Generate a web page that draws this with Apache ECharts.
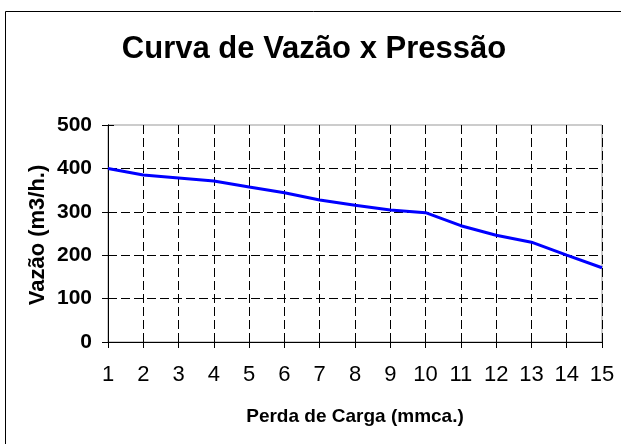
<!DOCTYPE html>
<html>
<head>
<meta charset="utf-8">
<script src="https://cdn.jsdelivr.net/npm/echarts@6/dist/echarts.min.js"></script>
<style>
  html, body { margin: 0; padding: 0; background: #fff; }
  #chart { width: 621px; height: 444px; }
</style>
</head>
<body>
<div id="chart"></div>
<script>
// perda de carga (mmca.) vs vazão (m3/h.)
const categories = ['1', '2', '3', '4', '5', '6', '7', '8', '9', '10', '11', '12', '13', '14', '15']
const vazao = [400, 385, 378, 371, 357, 344, 327, 315, 304, 298, 268, 246, 230, 200, 171]
const yTicks = [0, 100, 200, 300, 400, 500]

const titleText = 'Curva de Vazão x Pressão'
const xName = 'Perda de Carga (mmca.)'
const yName = 'Vazão (m3/h.)'

const font = 'Liberation Sans, Arial, sans-serif'
const dash = [9, 4]

const chart = echarts.init(document.getElementById('chart'))

const baseX = {
  type: 'category',
  data: categories,
  boundaryGap: false,
  axisLine: { lineStyle: { color: '#000', width: 1 } },
  axisLabel: { show: false },
  axisTick: { show: false },
  splitLine: { show: false }
}
const baseY = {
  type: 'value',
  min: yTicks[0],
  max: yTicks[yTicks.length - 1],
  interval: 100,
  axisLine: { show: true, lineStyle: { color: '#000', width: 1 } },
  axisLabel: { show: false },
  axisTick: { show: false },
  splitLine: { show: false }
}

chart.setOption({
  backgroundColor: '#fff',
  animation: false,
  grid: {
    left: 108, right: 19, top: 125, bottom: 102,
    show: true, borderColor: '#999', borderWidth: 1, backgroundColor: '#fff'
  },
  graphic: [
    {
      type: 'rect',
      shape: { x: 5.5, y: 11.5, width: 700, height: 600 },
      style: { fill: 'none', stroke: '#000', lineWidth: 1 },
      silent: true
    },
    {
      type: 'text', x: 314, y: 49.5,
      style: { text: titleText, x: 0, y: 0, align: 'center', verticalAlign: 'middle',
        font: 'bold 31px ' + font, fill: '#000' }
    },
    {
      type: 'text', x: 355, y: 417,
      style: { text: xName, x: 0, y: 0, align: 'center', verticalAlign: 'middle',
        font: 'bold 19px ' + font, fill: '#000' }
    },
    {
      type: 'text', x: 38, y: 235, rotation: Math.PI / 2,
      style: { text: yName, x: 0, y: 0, align: 'center', verticalAlign: 'middle',
        font: 'bold 22px ' + font, fill: '#000' }
    }
  ],
  xAxis: [
    Object.assign({}, baseX, {
      axisTick: { show: true, inside: false, length: 6, lineStyle: { color: '#000' } },
      axisLabel: { show: true, margin: 22, color: '#000', fontSize: 22, fontFamily: font },
      splitLine: { show: true, lineStyle: { color: '#000', type: dash, width: 1 } }
    }),
    Object.assign({}, baseX, {
      position: 'bottom',
      axisTick: { show: true, inside: true, length: 5, lineStyle: { color: '#000' } }
    })
  ],
  yAxis: [
    Object.assign({}, baseY, {
      axisTick: { show: true, inside: false, length: 6, lineStyle: { color: '#000' } },
      axisLabel: { show: true, margin: 16, color: '#000', fontSize: 21, fontWeight: 'bold', fontFamily: font },
      splitLine: { show: true, showMaxLine: false, lineStyle: { color: '#000', type: dash, width: 1 } }
    }),
    Object.assign({}, baseY, {
      position: 'left',
      axisTick: { show: true, inside: true, length: 6, lineStyle: { color: '#000' } }
    })
  ],
  series: [{
    type: 'line',
    data: vazao,
    xAxisIndex: 0,
    yAxisIndex: 0,
    showSymbol: false,
    symbol: 'none',
    lineStyle: { color: '#0000ff', width: 3 },
    z: 5
  }]
})
</script>
</body>
</html>
